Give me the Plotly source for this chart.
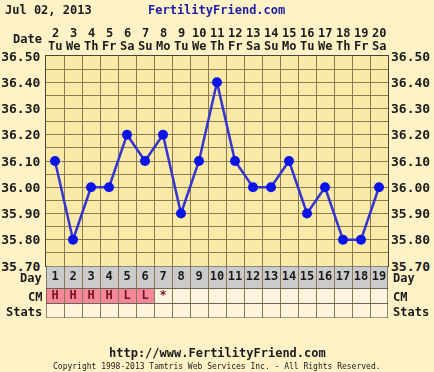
import plotly.graph_objects as go

# ---- data ----
days = list(range(1, 20))
dates = [str(d) for d in range(2, 21)]
weekdays = ["Tu", "We", "Th", "Fr", "Sa", "Su", "Mo", "Tu", "We", "Th",
            "Fr", "Sa", "Su", "Mo", "Tu", "We", "Th", "Fr", "Sa"]
temps = [36.10, 35.80, 36.00, 36.00, 36.20, 36.10, 36.20, 35.90, 36.10, 36.40,
         36.10, 36.00, 36.00, 36.10, 35.90, 36.00, 35.80, 35.80, 36.00]
cm = ["H", "H", "H", "H", "L", "L", "*", "", "", "", "", "", "", "", "", "", "", "", ""]
y_ticks = [35.70, 35.80, 35.90, 36.00, 36.10, 36.20, 36.30, 36.40, 36.50]
row_names = ["Day", "CM", "Stats"]
chart_date = "Jul 02, 2013"

# ---- layout constants ----
W, H = 434, 372
LEFT, RIGHT = 46, 388
TOP, MID, BOT = 56, 266, 318
row_edges = [0, 22, 37, 52]  # table rows in pixel units (y2 axis)

def py(p):
    return 1 - p / H

FONT = "DejaVu Sans Mono"
GRID = "#8a7a52"
BORDER = "#4a4232"
PAPER = "#fef2c6"
PLOT = "#faeaa8"
TXT = "#1a1a1a"

fig = go.Figure()

# temperature line
fig.add_trace(go.Scatter(
    x=days, y=temps, mode="lines+markers",
    line=dict(color="#3434d0", width=2.5),
    marker=dict(color="#0a14e6", size=10),
    xaxis="x", yaxis="y", hoverinfo="skip", showlegend=False))

# invisible trace for right axis
fig.add_trace(go.Scatter(x=days, y=temps, mode="markers", opacity=0,
                         xaxis="x", yaxis="y3", showlegend=False, hoverinfo="skip"))

# table cells
row_mid = [(row_edges[i] + row_edges[i + 1]) / 2 for i in range(3)]
shapes = []
for d, c in zip(days, cm):
    shapes.append(dict(type="rect", xref="x", yref="y2", x0=d - 0.5, x1=d + 0.5,
                       y0=row_edges[0], y1=row_edges[1], fillcolor="#cbcbcb",
                       line=dict(width=0), layer="below"))
    fill = "#f2889a" if c in ("H", "L") else "#fff4dc"
    shapes.append(dict(type="rect", xref="x", yref="y2", x0=d - 0.5, x1=d + 0.5,
                       y0=row_edges[1], y1=row_edges[2], fillcolor=fill,
                       line=dict(width=0), layer="below"))
    shapes.append(dict(type="rect", xref="x", yref="y2", x0=d - 0.5, x1=d + 0.5,
                       y0=row_edges[2], y1=row_edges[3], fillcolor="#fff4dc",
                       line=dict(width=0), layer="below"))
shapes.append(dict(type="rect", xref="x", yref="y2", x0=0.5, x1=19.5,
                   y0=row_edges[0], y1=row_edges[3], line=dict(color=BORDER, width=1.2),
                   fillcolor="rgba(0,0,0,0)", layer="above"))
fig.update_layout(shapes=shapes)

# table text
fig.add_trace(go.Scatter(
    x=days, y=[row_mid[0]] * len(days), mode="text", text=[str(d) for d in days],
    textfont=dict(family=FONT, size=12, color=TXT, weight="bold"),
    xaxis="x", yaxis="y2", hoverinfo="skip", showlegend=False))
fig.add_trace(go.Scatter(
    x=days, y=[row_mid[1]] * len(days), mode="text", text=cm,
    textfont=dict(family=FONT, size=12, color="#7a1020", weight="bold"),
    xaxis="x", yaxis="y2", hoverinfo="skip", showlegend=False))

bold12 = dict(family=FONT, size=12, color=TXT, weight="bold")
annotations = []
for name, ym in zip(row_names, row_mid):
    annotations.append(dict(text=name, xref="paper", yref="y2", x=(LEFT - 2) / W, y=ym + 1,
                            xanchor="right", yanchor="middle", showarrow=False, font=bold12))
    annotations.append(dict(text=name, xref="paper", yref="y2", x=(RIGHT + 3) / W, y=ym + 1,
                            xanchor="left", yanchor="middle", showarrow=False, font=bold12))
# top date / weekday header
for d, dt, wd in zip(days, dates, weekdays):
    annotations.append(dict(text=dt, xref="x", yref="paper", x=d, y=py(33),
                            xanchor="center", yanchor="middle", showarrow=False, font=bold12))
    annotations.append(dict(text=wd, xref="x", yref="paper", x=d, y=py(46),
                            xanchor="center", yanchor="middle", showarrow=False, font=bold12))
annotations += [
    dict(text="Date", xref="paper", yref="paper", x=(LEFT - 2) / W, y=py(39),
         xanchor="right", yanchor="middle", showarrow=False, font=bold12),
    dict(text=chart_date, xref="paper", yref="paper", x=3 / W, y=py(10),
         xanchor="left", yanchor="middle", showarrow=False, font=bold12),
    dict(text="FertilityFriend.com", xref="paper", yref="paper", x=216 / W, y=py(10),
         xanchor="center", yanchor="middle", showarrow=False,
         font=dict(family=FONT, size=12, color="#1c1ca6", weight="bold")),
    dict(text="http://www.FertilityFriend.com", xref="paper", yref="paper", x=217 / W, y=py(353),
         xanchor="center", yanchor="middle", showarrow=False, font=bold12),
    dict(text="Copyright 1998-2013 Tamtris Web Services Inc. - All Rights Reserved.",
         xref="paper", yref="paper", x=217 / W, y=py(366.5),
         xanchor="center", yanchor="middle", showarrow=False,
         font=dict(family=FONT, size=8, color=TXT)),
]

tickfont = dict(family=FONT, size=13, color=TXT, weight="bold")

fig.update_layout(
    template="none",
    width=W, height=H, margin=dict(l=0, r=0, t=0, b=0, pad=0, autoexpand=False),
    paper_bgcolor=PAPER, plot_bgcolor=PLOT,
    annotations=annotations,
    xaxis=dict(domain=[LEFT / W, RIGHT / W], range=[0.5, 19.5], anchor="y",
               tick0=0.5, dtick=1, showgrid=True, gridcolor=GRID, gridwidth=1,
               showticklabels=False, zeroline=False, showline=True, mirror=True,
               linecolor=BORDER, linewidth=1.2, fixedrange=True, automargin=False, ticks=""),
    yaxis=dict(domain=[py(MID), py(TOP)], range=[35.7, 36.5], anchor="x",
               tickmode="array", tickvals=y_ticks, ticktext=[f"{v:.2f}" for v in y_ticks],
               tickfont=tickfont, showgrid=True, gridcolor=GRID, gridwidth=1,
               minor=dict(dtick=0.05, tick0=35.7, showgrid=True, gridcolor=GRID, gridwidth=1),
               zeroline=False, showline=True, mirror=True, linecolor=BORDER, linewidth=1.2,
               ticks="", ticklabelstandoff=2, automargin=False),
    yaxis3=dict(overlaying="y", side="right", anchor="x", range=[35.7, 36.5],
                tickmode="array", tickvals=y_ticks, ticktext=[f"{v:.2f}" for v in y_ticks],
                tickfont=tickfont, showgrid=False, zeroline=False, ticks="",
                ticklabelstandoff=2, automargin=False),
    yaxis2=dict(domain=[py(BOT), py(MID)], range=[row_edges[-1], row_edges[0]], anchor="x",
                tickmode="array", tickvals=row_edges, showticklabels=False, ticks="",
                showgrid=True, gridcolor="#6e6452", gridwidth=1, zeroline=False,
                automargin=False),
)

css = ("var s=document.createElement('style');"
       "s.textContent='html,body{margin:0!important;padding:0!important;overflow:hidden;"
       "background:%s}';"
       "document.head.appendChild(s);" % PAPER)
fig.write_html("out.html", config={"displayModeBar": False}, post_script=css)
